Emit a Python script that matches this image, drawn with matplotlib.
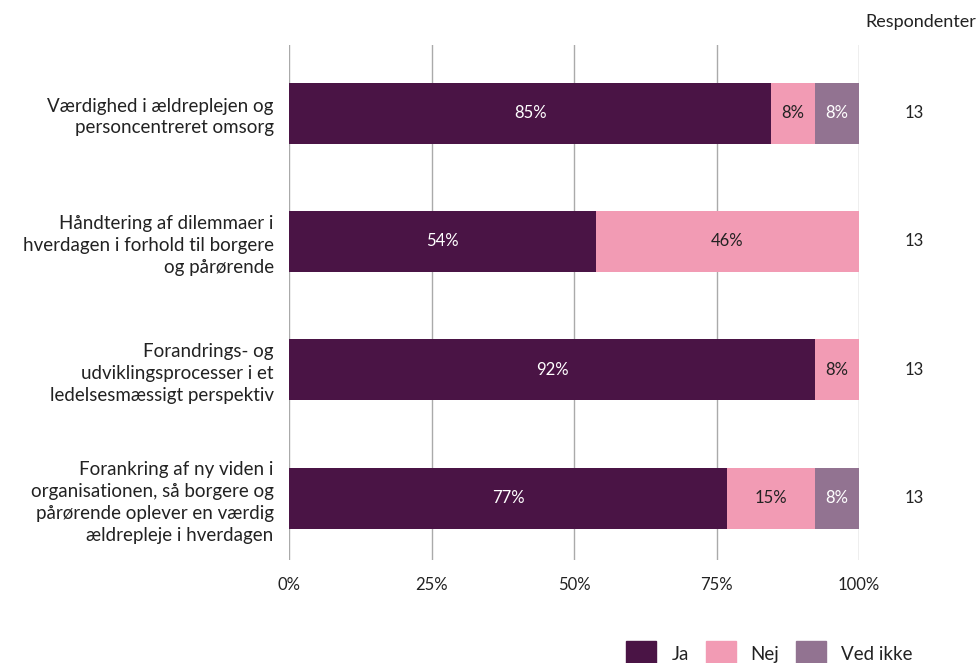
import numpy as np
import matplotlib
matplotlib.use("Agg")
from matplotlib import pyplot as plt
from matplotlib.patches import Patch
from matplotlib import transforms

plt.rcParams['font.family'] = ['Lato', 'DejaVu Sans']

# svar fordelt på kategorier (antal respondenter)
categories = [
    "Værdighed i ældreplejen og\npersoncentreret omsorg",
    "Håndtering af dilemmaer i\nhverdagen i forhold til borgere\nog pårørende",
    "Forandrings- og\nudviklingsprocesser i et\nledelsesmæssigt perspektiv",
    "Forankring af ny viden i\norganisationen, så borgere og\npårørende oplever en værdig\nældrepleje i hverdagen",
]
ja = [11, 7, 12, 10]
nej = [1, 6, 1, 2]
ved_ikke = [1, 0, 0, 1]
respondenter = [13, 13, 13, 13]
xticks = [0, 25, 50, 75, 100]

series = ["Ja", "Nej", "Ved ikke"]
colors = ["#4a1445", "#f29bb4", "#927391"]
text_colors = ["white", "#222222", "white"]

counts = np.array([ja, nej, ved_ikke], dtype=float)
pct = counts / np.array(respondenter) * 100

fig = plt.figure(figsize=(9.77, 6.63), dpi=100)
ax = fig.add_axes([289/977, 1-560/663, 570/977, 515/663])

y = np.arange(len(categories))
left = np.zeros(len(categories))
for k in range(3):
    ax.barh(y, pct[k], left=left, height=0.475, color=colors[k], zorder=2)
    for i in range(len(categories)):
        if pct[k][i] > 0:
            ax.text(left[i] + pct[k][i]/2, y[i], f"{pct[k][i]:.0f}%",
                    ha='center', va='center', fontsize=12,
                    color=text_colors[k], zorder=3)
    left += pct[k]

ax.set_xlim(0, 100)
ax.set_ylim(3.48, -0.53)
ax.set_xticks(xticks)
ax.set_xticklabels([f"{t}%" for t in xticks], fontsize=12, color='#222222')
ax.set_yticks(y)
ax.set_yticklabels(categories, fontsize=13.5, color='#222222', linespacing=1.35)
ax.tick_params(axis='x', length=0, pad=12)
ax.tick_params(axis='y', length=0, pad=11)
ax.grid(axis='x', color='#aaaaaa', linewidth=1, zorder=0)
for s in ax.spines.values():
    s.set_visible(False)

# antal respondenter til højre for søjlerne
trans = transforms.blended_transform_factory(fig.transFigure, ax.transData)
for i, n in enumerate(respondenter):
    ax.text(914/977, y[i], str(n), transform=trans,
            fontsize=12, color='#222222', ha='center', va='center')
fig.text(976/977, 1-22/663, "Respondenter", ha='right', va='center',
         fontsize=13, color='#222222')

handles = [Patch(color=c, label=s) for c, s in zip(colors, series)]
fig.legend(handles=handles, loc='upper left', bbox_to_anchor=(617/977, 1-632/663),
           ncol=3, frameon=False, fontsize=13.5, handlelength=1.6, handleheight=1.6,
           handletextpad=0.8, columnspacing=0.9, borderpad=0, labelcolor='#222222')

fig.savefig("out.png", dpi=100)
